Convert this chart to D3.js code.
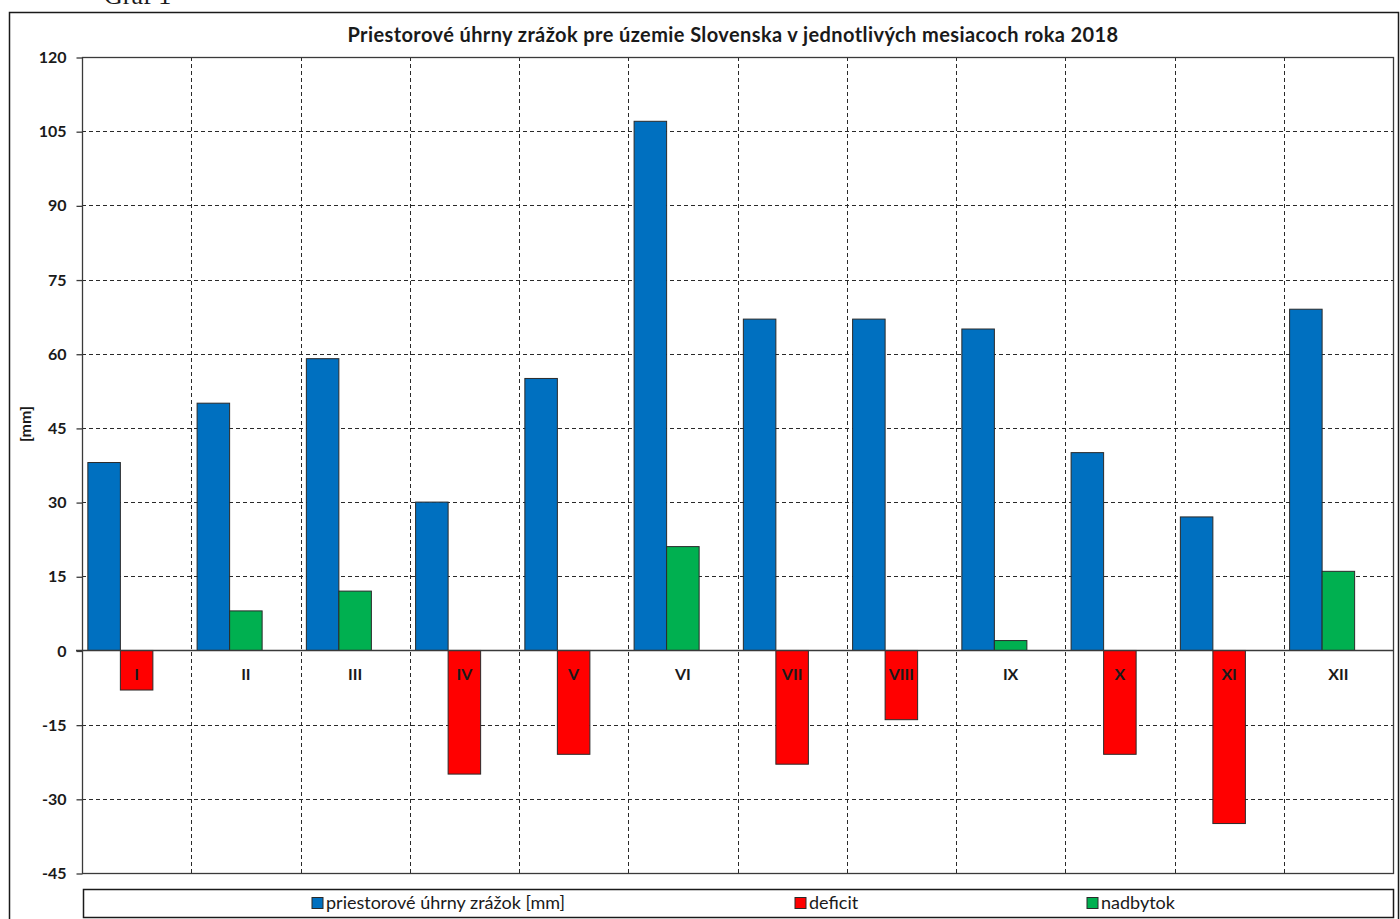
<!DOCTYPE html>
<html>
<head>
<meta charset="utf-8">
<script src="https://cdn.jsdelivr.net/npm/d3@7"></script>
<style>
  html, body { margin: 0; padding: 0; background: #fff; }
  svg { display: block; }
  text { font-family: Lato, "Open Sans", sans-serif; fill: #1a1a1a; }
</style>
</head>
<body>
<svg id="chart" width="1400" height="919"></svg>
<script>
// Monthly precipitation over Slovakia, 2018
const months = ["I", "II", "III", "IV", "V", "VI", "VII", "VIII", "IX", "X", "XI", "XII"];
const precipitation = [38, 50, 59, 30, 55, 107, 67, 67, 65, 40, 27, 69];
const deficit = [-8, 0, 0, -25, -21, 0, -23, -14, 0, -21, -35, 0];
const surplus = [0, 8, 12, 0, 0, 21, 0, 0, 2, 0, 0, 16];
const yTicks = [-45, -30, -15, 0, 15, 30, 45, 60, 75, 90, 105, 120];
const seriesNames = ["priestorové úhrny zrážok [mm]", "deficit", "nadbytok"];
const seriesColors = ["#0070C0", "#FF0000", "#00B050"];
const titleText = "Priestorové úhrny zrážok pre územie Slovenska v jednotlivých mesiacoch roka 2018";

const svg = d3.select("#chart");

const plot = { left: 82, right: 1393, top: 57, bottom: 873 };

const x = d3.scaleBand().domain(months).range([plot.left, plot.right]).padding(0);
const slot = d3.scaleBand().domain([0, 1, 2]).range([0, x.bandwidth()])
  .paddingInner(0).paddingOuter(0.18);
const y = d3.scaleLinear().domain([d3.min(yTicks), d3.max(yTicks)]).range([plot.bottom, plot.top]);

// caption above the chart frame (runs off the page top)
svg.append("text")
  .attr("x", 104).attr("y", 4)
  .style("font-family", "'Liberation Serif', 'DejaVu Serif', serif")
  .style("font-size", "26px")
  .text("Graf 1");

// outer chart frame
svg.append("rect")
  .attr("x", 9.5).attr("y", 12.5)
  .attr("width", 1389).attr("height", 920)
  .attr("fill", "#fff").attr("stroke", "#1a1a1a").attr("stroke-width", 1.5);

// title
svg.append("text")
  .attr("x", 733).attr("y", 42)
  .attr("text-anchor", "middle")
  .style("font-weight", "bold").style("font-size", "20px")
  .style("letter-spacing", "0.4px")
  .text(titleText);

// y-axis title
svg.append("text")
  .attr("transform", "translate(31,424) rotate(-90)")
  .attr("text-anchor", "middle")
  .style("font-weight", "bold").style("font-size", "16px")
  .text("[mm]");

const grid = svg.append("g");

// horizontal dashed gridlines
grid.selectAll("line.h")
  .data(yTicks.filter(v => v !== 0 && v !== d3.min(yTicks) && v !== d3.max(yTicks)))
  .join("line")
  .attr("x1", plot.left).attr("x2", plot.right)
  .attr("y1", d => Math.round(y(d)) + 0.5).attr("y2", d => Math.round(y(d)) + 0.5)
  .attr("stroke", "#2a2a2a").attr("stroke-width", 1).attr("stroke-dasharray", "4,3");

// vertical dashed gridlines between months
grid.selectAll("line.v")
  .data(months.slice(1))
  .join("line")
  .attr("x1", d => Math.round(x(d)) + 0.5).attr("x2", d => Math.round(x(d)) + 0.5)
  .attr("y1", plot.top).attr("y2", plot.bottom)
  .attr("stroke", "#2a2a2a").attr("stroke-width", 1).attr("stroke-dasharray", "4,3");

// plot area border
svg.append("rect")
  .attr("x", plot.left + 0.5).attr("y", plot.top + 0.5)
  .attr("width", plot.right - plot.left).attr("height", plot.bottom - plot.top)
  .attr("fill", "none").attr("stroke", "#3a3a3a").attr("stroke-width", 1.3);

// y axis ticks and labels (plain hyphen for negatives)
const yAxis = d3.axisLeft(y).tickValues(yTicks).tickSize(6).tickPadding(10).tickFormat(d => String(d));
const yg = svg.append("g").attr("transform", `translate(${plot.left + 0.5},0.5)`).call(yAxis);
yg.select(".domain").remove();
yg.selectAll(".tick line").attr("stroke", "#3a3a3a").attr("stroke-width", 1.3);
yg.selectAll(".tick text")
  .style("font-family", "Lato, sans-serif")
  .style("font-weight", "bold").style("font-size", "16px").attr("fill", "#1a1a1a");

// bars
const bars = [];
months.forEach((m, i) => {
  bars.push({ m, v: precipitation[i], s: 0, slot: 0 });
  if (deficit[i] !== 0) bars.push({ m, v: deficit[i], s: 1, slot: 1 });
  if (surplus[i] !== 0) bars.push({ m, v: surplus[i], s: 2, slot: 1 });
});

svg.append("g").selectAll("rect")
  .data(bars)
  .join("rect")
  .attr("x", d => x(d.m) + slot(d.slot))
  .attr("width", slot.bandwidth())
  .attr("y", d => y(Math.max(0, d.v)))
  .attr("height", d => Math.abs(y(d.v) - y(0)))
  .attr("fill", d => seriesColors[d.s])
  .attr("stroke", "#2a2a2a").attr("stroke-width", 1);

// zero line
svg.append("line")
  .attr("x1", plot.left - 6).attr("x2", plot.right)
  .attr("y1", Math.round(y(0)) + 0.5).attr("y2", Math.round(y(0)) + 0.5)
  .attr("stroke", "#3a3a3a").attr("stroke-width", 1.3);

// month labels below the zero line
svg.append("g").selectAll("text")
  .data(months)
  .join("text")
  .attr("x", d => x(d) + x.bandwidth() / 2)
  .attr("y", y(0) + 30)
  .attr("text-anchor", "middle")
  .style("font-weight", "bold").style("font-size", "16px")
  .text(d => d);

// legend
svg.append("rect")
  .attr("x", 83.5).attr("y", 889.5)
  .attr("width", 1310).attr("height", 28)
  .attr("fill", "#fff").attr("stroke", "#1a1a1a").attr("stroke-width", 1.5);

const legendX = [312, 795, 1087];
const lg = svg.append("g").selectAll("g")
  .data(seriesNames)
  .join("g")
  .attr("transform", (d, i) => `translate(${legendX[i]},903)`);
lg.append("rect")
  .attr("x", 0).attr("y", -5.5).attr("width", 11).attr("height", 11)
  .attr("fill", (d, i) => seriesColors[i]).attr("stroke", "#2a2a2a").attr("stroke-width", 1);
lg.append("text")
  .attr("x", 14).attr("y", 6)
  .style("font-size", "18px")
  .text(d => d);
</script>
</body>
</html>
